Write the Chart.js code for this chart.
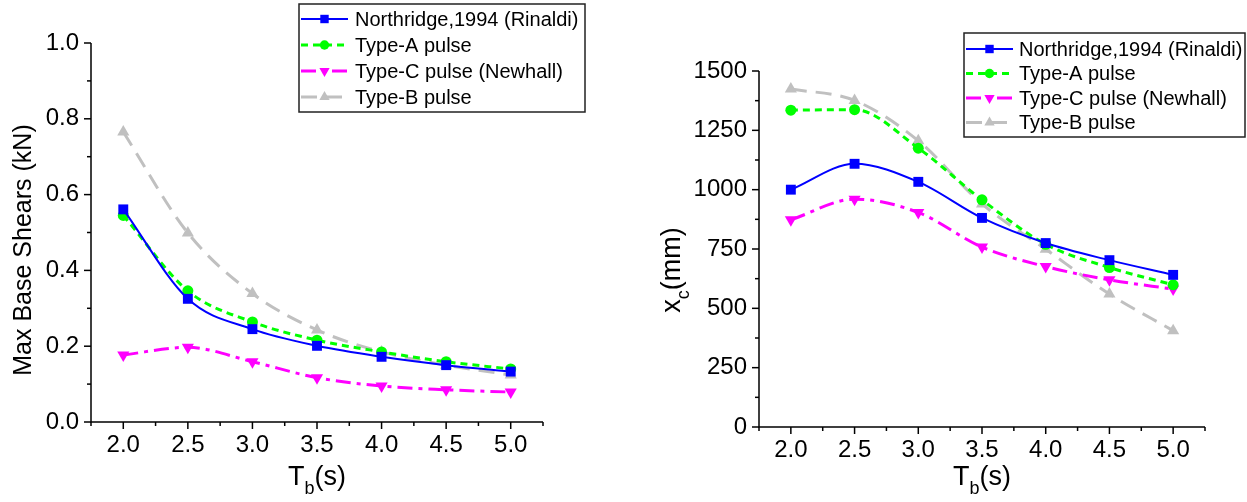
<!DOCTYPE html>
<html>
<head>
<meta charset="utf-8">
<script src="https://cdn.jsdelivr.net/npm/chart.js@4.4.1/dist/chart.umd.min.js"></script>
<style>
  html, body { margin: 0; padding: 0; background: #fff; }
  body { width: 1247px; height: 502px; position: relative; overflow: hidden; }
  .wrap { position: absolute; top: 0; height: 502px; }
  #w1 { left: 0; width: 623px; }
  #w2 { left: 623px; width: 624px; }
</style>
</head>
<body>
<div class="wrap" id="w1"><canvas id="c1" width="623" height="502"></canvas></div>
<div class="wrap" id="w2"><canvas id="c2" width="624" height="502"></canvas></div>
<script>
// ---------- data ----------
const periods = [2.0, 2.5, 3.0, 3.5, 4.0, 4.5, 5.0];           // T_b (s)
const seriesNames = ['Northridge,1994 (Rinaldi)', 'Type-A pulse', 'Type-C pulse (Newhall)', 'Type-B pulse'];

// Max base shears (kN)
const shearNorthridge = [0.561, 0.325, 0.245, 0.201, 0.172, 0.150, 0.133];
const shearTypeA      = [0.545, 0.346, 0.264, 0.216, 0.185, 0.159, 0.140];
const shearTypeC      = [0.177, 0.197, 0.159, 0.117, 0.095, 0.085, 0.079];
const shearTypeB      = [0.765, 0.499, 0.339, 0.243, 0.185, 0.150, 0.124];

// x_c (mm)
const xcNorthridge = [1000, 1109, 1033, 881, 775, 703, 641];
const xcTypeA      = [1335, 1337, 1175, 957, 770, 672, 599];
const xcTypeC      = [873, 960, 904, 758, 676, 620, 581];
const xcTypeB      = [1424, 1376, 1206, 940, 749, 560, 406];

// tick labels
const xTicks      = [2.0, 2.5, 3.0, 3.5, 4.0, 4.5, 5.0];
const shearTicks  = [0.0, 0.2, 0.4, 0.6, 0.8, 1.0];
const xcTicks     = [0, 250, 500, 750, 1000, 1250, 1500];

// ---------- styles ----------
const FONT = '"Liberation Sans", Arial, Helvetica, sans-serif';
const styles = [
  { color: '#0000FF', dash: [],            width: 2,   pointStyle: 'rect',     rotation: 0,   radius: 7   },
  { color: '#00FF00', dash: [7, 5],        width: 3,   pointStyle: 'circle',   rotation: 0,   radius: 5.5 },
  { color: '#FF00FF', dash: [15, 6, 4, 6], width: 3,   pointStyle: 'triangle', rotation: 180, radius: 7   },
  { color: '#C0C0C0', dash: [16, 9],       width: 3,   pointStyle: 'triangle', rotation: 0,   radius: 7   }
];

function makeDatasets(arrays) {
  return arrays.map((vals, i) => {
    const s = styles[i];
    return {
      label: seriesNames[i],
      data: periods.map((p, k) => ({ x: p, y: vals[k] })),
      borderColor: s.color,
      backgroundColor: s.color,
      borderWidth: s.width,
      borderDash: s.dash,
      pointStyle: s.pointStyle,
      rotation: s.rotation,
      pointRadius: s.radius,
      pointBorderWidth: 0,
      pointBackgroundColor: s.color,
      cubicInterpolationMode: 'monotone',
      fill: false
    };
  });
}

// ---------- plugins ----------
const minorTicksPlugin = {
  id: 'minorTicks',
  afterDraw(chart, args, opts) {
    const ctx = chart.ctx;
    const xs = chart.scales.x, ys = chart.scales.y;
    const area = chart.chartArea;
    ctx.save();
    ctx.strokeStyle = '#000';
    ctx.lineWidth = 1.5;
    ctx.setLineDash([]);
    const xMaj = opts.xMajor, yMaj = opts.yMajor;
    const xMinStep = (xMaj[1] - xMaj[0]) / 2, yMinStep = (yMaj[1] - yMaj[0]) / 2;
    for (let v = xs.min; v <= xs.max + 1e-9; v += xMinStep) {
      const isMaj = xMaj.some(m => Math.abs(m - v) < 1e-6);
      const px = xs.getPixelForValue(v);
      ctx.beginPath();
      ctx.moveTo(px, area.bottom);
      ctx.lineTo(px, area.bottom + (isMaj ? 7 : 4));
      ctx.stroke();
    }
    for (let v = ys.min; v <= ys.max + 1e-9; v += yMinStep) {
      const isMaj = yMaj.some(m => Math.abs(m - v) < 1e-6);
      const py = ys.getPixelForValue(v);
      ctx.beginPath();
      ctx.moveTo(area.left, py);
      ctx.lineTo(area.left - (isMaj ? 7 : 4), py);
      ctx.stroke();
    }
    ctx.beginPath();
    ctx.moveTo(area.left, area.top);
    ctx.lineTo(area.left, area.bottom);
    ctx.lineTo(area.right, area.bottom);
    ctx.stroke();
    ctx.restore();
  }
};

const titlesPlugin = {
  id: 'axisTitles',
  afterDraw(chart, args, o) {
    const ctx = chart.ctx;
    const area = chart.chartArea;
    ctx.save();
    ctx.fillStyle = '#000';
    ctx.textBaseline = 'alphabetic';
    function drawSub(parts, size) {
      const subSize = Math.round(size * 0.68);
      ctx.font = size + 'px ' + FONT;
      const w0 = ctx.measureText(parts[0]).width;
      const w2 = ctx.measureText(parts[2]).width;
      ctx.font = subSize + 'px ' + FONT;
      const w1 = ctx.measureText(parts[1]).width;
      const total = w0 + w1 + w2;
      let x = -total / 2;
      ctx.font = size + 'px ' + FONT;
      ctx.fillText(parts[0], x, 0); x += w0;
      ctx.font = subSize + 'px ' + FONT;
      ctx.fillText(parts[1], x, size * 0.33); x += w1;
      ctx.font = size + 'px ' + FONT;
      ctx.fillText(parts[2], x, 0);
    }
    ctx.save();
    ctx.translate((area.left + area.right) / 2, o.xBaseline);
    drawSub(o.xParts, o.xSize);
    ctx.restore();
    ctx.save();
    ctx.translate(o.yX, o.yY);
    ctx.rotate(-Math.PI / 2);
    if (o.yParts) {
      drawSub(o.yParts, o.ySize);
    } else {
      ctx.font = o.ySize + 'px ' + FONT;
      ctx.textAlign = 'center';
      ctx.fillText(o.yText, 0, 0);
    }
    ctx.restore();
    ctx.restore();
  }
};

const boxLegendPlugin = {
  id: 'boxLegend',
  afterDraw(chart, args, o) {
    const ctx = chart.ctx;
    ctx.save();
    ctx.fillStyle = '#fff';
    ctx.fillRect(o.left, o.top, o.width, o.height);
    ctx.strokeStyle = '#222';
    ctx.lineWidth = 1.5;
    ctx.setLineDash([]);
    ctx.strokeRect(o.left, o.top, o.width, o.height);
    chart.data.datasets.forEach((ds, i) => {
      const y = o.top + o.firstRow + i * o.rowH;
      const x0 = o.left + 2, x1 = x0 + o.sampleW;
      ctx.save();
      ctx.strokeStyle = ds.borderColor;
      ctx.lineWidth = ds.borderWidth;
      ctx.setLineDash(ds.borderDash || []);
      ctx.beginPath();
      ctx.moveTo(x0, y);
      ctx.lineTo(x1, y);
      ctx.stroke();
      ctx.setLineDash([]);
      ctx.fillStyle = ds.pointBackgroundColor;
      ctx.strokeStyle = ds.pointBackgroundColor;
      Chart.helpers.drawPoint(ctx, {
        pointStyle: ds.pointStyle, rotation: ds.rotation,
        radius: ds.pointRadius * 0.85, borderWidth: 0
      }, (x0 + x1) / 2, y);
      ctx.restore();
      ctx.fillStyle = '#000';
      ctx.font = o.fontSize + 'px ' + FONT;
      ctx.textBaseline = 'middle';
      ctx.textAlign = 'left';
      ctx.fillText(ds.label, x1 + o.textGap, y + 1);
    });
    ctx.restore();
  }
};

function makeChart(canvasId, arrays, cfg) {
  return new Chart(document.getElementById(canvasId), {
    type: 'line',
    data: { datasets: makeDatasets(arrays) },
    options: {
      responsive: false,
      animation: false,
      layout: { padding: cfg.padding },
      plugins: {
        legend: { display: false },
        tooltip: { enabled: false },
        minorTicks: { xMajor: xTicks, yMajor: cfg.yTicks },
        axisTitles: cfg.titles,
        boxLegend: cfg.legend
      },
      scales: {
        x: {
          type: 'linear',
          min: 1.75, max: 5.25,
          grid: { display: false, drawTicks: false },
          border: { display: false },
          afterBuildTicks: s => { s.ticks = xTicks.map(v => ({ value: v })); },
          afterFit: s => { s.height = cfg.xHeight; },
          ticks: {
            padding: cfg.xPad,
            color: '#000',
            font: { family: FONT, size: cfg.tickSize },
            maxRotation: 0,
            callback: v => Number(v).toFixed(1)
          }
        },
        y: {
          type: 'linear',
          min: cfg.yTicks[0], max: cfg.yTicks[cfg.yTicks.length - 1],
          grid: { display: false, drawTicks: false },
          border: { display: false },
          afterBuildTicks: s => { s.ticks = cfg.yTicks.map(v => ({ value: v })); },
          afterFit: s => { s.width = cfg.yWidth; },
          ticks: {
            padding: cfg.yPad,
            color: '#000',
            font: { family: FONT, size: cfg.tickSize },
            callback: cfg.yFmt
          }
        }
      }
    },
    plugins: [minorTicksPlugin, titlesPlugin, boxLegendPlugin]
  });
}

makeChart('c1', [shearNorthridge, shearTypeA, shearTypeC, shearTypeB], {
  padding: { left: 0, right: 80, top: 43, bottom: 0 },
  yWidth: 91, xHeight: 80, xPad: 9, yPad: 12, tickSize: 24,
  yTicks: shearTicks,
  yFmt: v => Number(v).toFixed(1),
  titles: { xParts: ['T', 'b', '(s)'], xSize: 27, xBaseline: 485,
            yText: 'Max Base Shears (kN)', ySize: 25, yX: 31, yY: 250 },
  legend: { left: 299, top: 4, width: 286, height: 108, firstRow: 15, rowH: 26,
            sampleW: 47, textGap: 7, fontSize: 20 }
});

makeChart('c2', [xcNorthridge, xcTypeA, xcTypeC, xcTypeB], {
  padding: { left: 0, right: 42, top: 71, bottom: 0 },
  yWidth: 136, xHeight: 75, xPad: 9, yPad: 12, tickSize: 24,
  yTicks: xcTicks,
  yFmt: v => String(Math.round(v)),
  titles: { xParts: ['T', 'b', '(s)'], xSize: 27, xBaseline: 485,
            yParts: ['x', 'c', '(mm)'], ySize: 27, yX: 57, yY: 270 },
  legend: { left: 341, top: 33, width: 281, height: 104, firstRow: 16, rowH: 24.5,
            sampleW: 47, textGap: 6, fontSize: 20 }
});
</script>
</body>
</html>
